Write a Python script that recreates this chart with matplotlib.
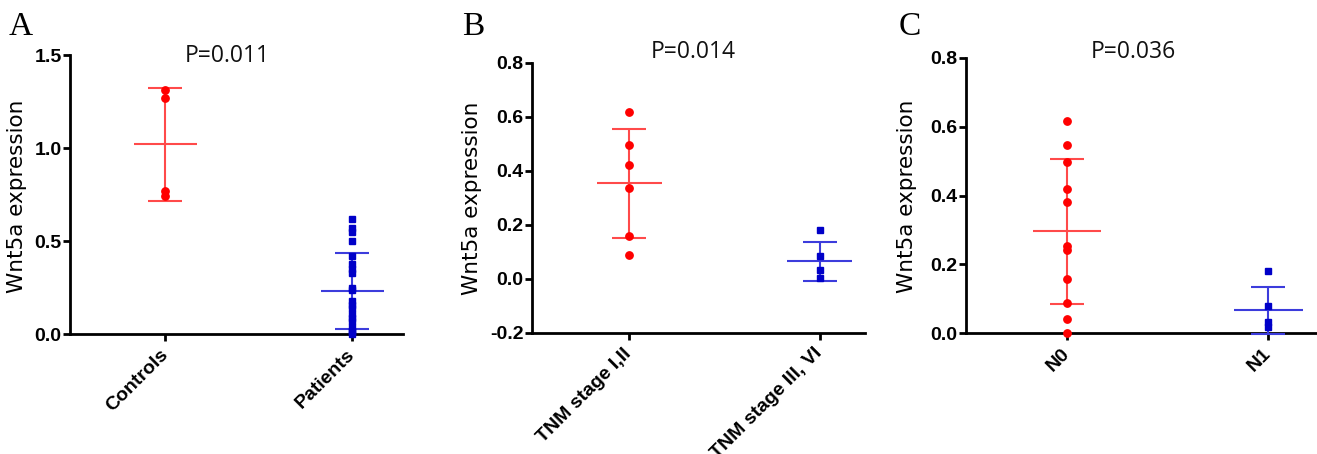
import matplotlib
matplotlib.use("Agg")
import matplotlib.pyplot as plt
import numpy as np

# ---------------- data ----------------
a_categories = ["Controls", "Patients"]
a_controls = [1.31, 1.27, 0.77, 0.745]
a_patients = [0.62, 0.57, 0.55, 0.50, 0.42, 0.38, 0.35, 0.33, 0.25, 0.24,
              0.18, 0.16, 0.14, 0.11, 0.09, 0.07, 0.04, 0.02, 0.01, 0.0]
a_means = [1.02, 0.234]
a_sd = [0.305, 0.205]
a_pvalue = "P=0.011"
a_yticks = [0.0, 0.5, 1.0, 1.5]

b_categories = ["TNM stage I,II", "TNM stage III, VI"]
b_stage12 = [0.617, 0.495, 0.42, 0.336, 0.157, 0.089]
b_stage34 = [0.181, 0.083, 0.033, 0.003]
b_means = [0.353, 0.064]
b_sd = [0.202, 0.072]
b_pvalue = "P=0.014"
b_yticks = [-0.2, 0.0, 0.2, 0.4, 0.6, 0.8]

c_categories = ["N0", "N1"]
c_n0 = [0.617, 0.546, 0.496, 0.419, 0.381, 0.253, 0.242, 0.159, 0.089, 0.042, 0.0]
c_n1 = [0.181, 0.079, 0.033, 0.019]
c_means = [0.296, 0.067]
c_sd = [0.21, 0.068]
c_pvalue = "P=0.036"
c_yticks = [0.0, 0.2, 0.4, 0.6, 0.8]

ylabel = "Wnt5a expression"
panel_letters = ["A", "B", "C"]

# ---------------- style ----------------
W, H = 1317, 454
fig = plt.figure(figsize=(W / 100, H / 100), dpi=100)

RED_PT = "#ff0000"
RED_LN = "#ff4a4a"
BLUE_PT = "#0000c8"
BLUE_LN = "#3c3cdc"


def px_axes(x0, x1, ytop, ybot):
    return fig.add_axes([x0 / W, 1 - ybot / H, (x1 - x0) / W, (ybot - ytop) / H])


panels = [
    dict(rect=(70, 403, 55, 334.3), xlim=(-0.51, 1.27), ylim=(0, 1.5),
         yticks=a_yticks, fmt="{:.1f}", cats=a_categories,
         groups=[a_controls, a_patients], means=a_means, sd=a_sd, p=a_pvalue,
         pxy=(227, 56), letter_xy=(9, 27), ylab_xy=(17, 196)),
    dict(rect=(531.7, 865, 62.7, 332.7), xlim=(-0.51, 1.236), ylim=(-0.2, 0.8),
         yticks=b_yticks, fmt="{:.1f}", cats=b_categories,
         groups=[b_stage12, b_stage34], means=b_means, sd=b_sd, p=b_pvalue,
         pxy=(693, 52), letter_xy=(462, 27), ylab_xy=(472, 198)),
    dict(rect=(966, 1317, 57.7, 333.3), xlim=(-0.504, 1.242), ylim=(0, 0.8),
         yticks=c_yticks, fmt="{:.1f}", cats=c_categories,
         groups=[c_n0, c_n1], means=c_means, sd=c_sd, p=c_pvalue,
         pxy=(1133, 52), letter_xy=(899, 27), ylab_xy=(907, 196)),
]

for i, p in enumerate(panels):
    x0, x1, yt, yb = p["rect"]
    ax = px_axes(x0, x1, yt, yb)
    ax.set_xlim(*p["xlim"])
    ax.set_ylim(*p["ylim"])
    for s in ["top", "right"]:
        ax.spines[s].set_visible(False)
    for s in ["left", "bottom"]:
        ax.spines[s].set_linewidth(2.0)
        ax.spines[s].set_color("black")

    styles = [(RED_PT, RED_LN, "o"), (BLUE_PT, BLUE_LN, "s")]
    for j, vals in enumerate(p["groups"]):
        pc, lc, mk = styles[j]
        xs = np.full(len(vals), j, dtype=float)
        ax.errorbar([j], [p["means"][j]], yerr=[p["sd"][j]], fmt="none",
                    ecolor=lc, elinewidth=1.5, capsize=12, capthick=1.5,
                    zorder=3, clip_on=False)
        ax.hlines(p["means"][j], j - 0.17, j + 0.17, color=lc, lw=1.5, zorder=3)
        ax.plot(xs, vals, linestyle="none", marker=mk, ms=5.3 if mk == "o" else 5,
                color=pc, mec=pc, zorder=4, clip_on=False)

    ax.set_xticks([0, 1])
    ax.set_xticklabels(p["cats"], rotation=45, ha="right", va="center",
                       rotation_mode="anchor", fontsize=14,
                       fontweight="bold", family="Liberation Sans")
    ax.set_yticks(p["yticks"])
    ax.set_yticklabels([p["fmt"].format(v) for v in p["yticks"]], fontsize=14,
                       fontweight="bold", family="Liberation Sans")
    ax.tick_params(axis="both", direction="out", length=5, width=2.0,
                   color="black")
    ax.tick_params(axis="y", pad=1)
    ax.tick_params(axis="x", pad=8)

    fig.text(p["pxy"][0] / W, 1 - p["pxy"][1] / H, p["p"], ha="center",
             va="center", fontsize=16.5, family="Open Sans", color="#111111")
    fig.text(p["letter_xy"][0] / W, 1 - p["letter_xy"][1] / H,
             panel_letters[i], ha="left", va="center", fontsize=24,
             family="Liberation Serif")
    fig.text(p["ylab_xy"][0] / W, 1 - p["ylab_xy"][1] / H, ylabel,
             rotation=90, ha="center", va="center", fontsize=15.5,
             family="DejaVu Sans")

fig.savefig("out.png", dpi=100)
